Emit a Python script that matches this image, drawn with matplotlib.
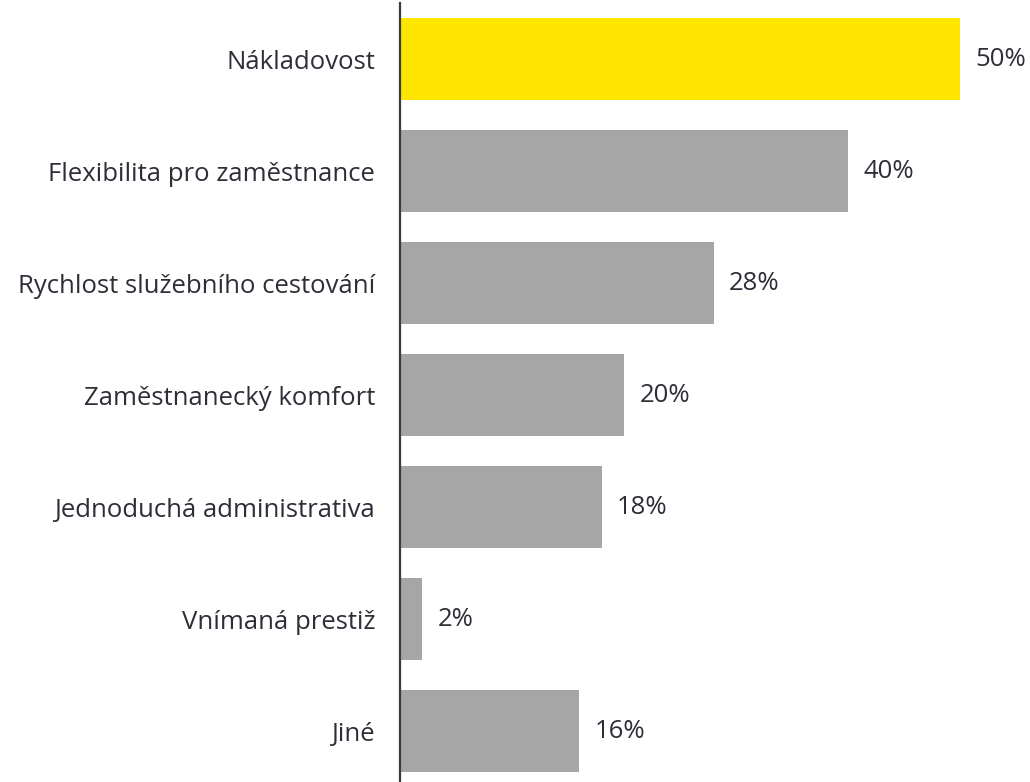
import matplotlib
matplotlib.use("Agg")
import matplotlib.pyplot as plt

categories = ["Nákladovost", "Flexibilita pro zaměstnance", "Rychlost služebního cestování",
              "Zaměstnanecký komfort", "Jednoduchá administrativa", "Vnímaná prestiž", "Jiné"]
values = [50, 40, 28, 20, 18, 2, 16]
colors = ["#FFE600", "#A6A6A6", "#A6A6A6", "#A6A6A6", "#A6A6A6", "#A6A6A6", "#A6A6A6"]

text_color = "#2E2E38"
plt.rcParams["font.family"] = ["Open Sans", "DejaVu Sans"]

fig = plt.figure(figsize=(10.30, 7.82), dpi=100)
ax = fig.add_axes([400 / 1030, 0, 630 / 1030, 779 / 782])

pos = list(range(len(categories)))
ax.barh(pos, values, height=0.732, color=colors, zorder=2)

for y, v in zip(pos, values):
    ax.annotate(f"{v}%", xy=(v, y), xytext=(11, 0), textcoords="offset points",
                ha="left", va="center", fontsize=18.5, color=text_color)

ax.set_ylim(6.455, -0.5)
ax.set_xlim(0, 56.25)
ax.set_yticks(pos)
ax.set_yticklabels(categories, fontsize=18.5, color=text_color)
ax.tick_params(axis="y", length=0, pad=18)
ax.set_xticks([])

for side in ["top", "right", "bottom"]:
    ax.spines[side].set_visible(False)
ax.spines["left"].set_color("#3A3A42")
ax.spines["left"].set_linewidth(1.6)

fig.savefig("out.png", dpi=100)
